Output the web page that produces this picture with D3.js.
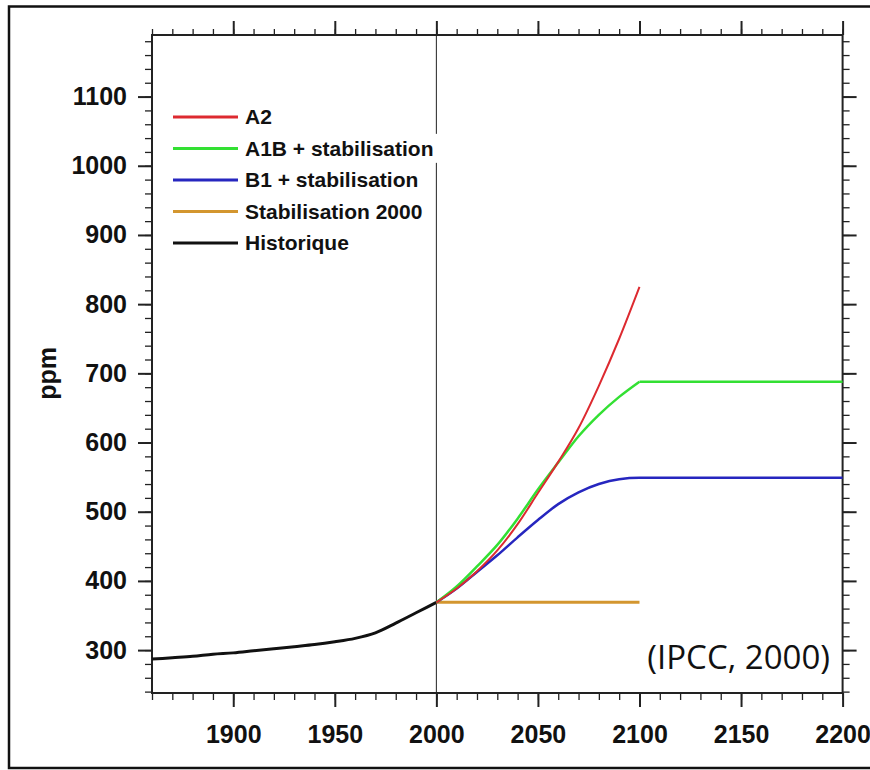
<!DOCTYPE html>
<html>
<head>
<meta charset="utf-8">
<script src="https://cdn.jsdelivr.net/npm/d3@7"></script>
<style>
  body { margin: 0; background: #fff; }
</style>
</head>
<body>
<div id="chart"></div>
<script>
// historical CO2 (ppm)
const histYears = [1860, 1870, 1880, 1890, 1900, 1910, 1920, 1930, 1940, 1950, 1960, 1970, 1980, 1990, 2000];
const histCO2 = [287, 289, 291, 294, 296, 299, 302, 305, 308, 312, 317, 325, 339, 354, 369];

// scenarios
const scenYears = [2000, 2010, 2020, 2030, 2040, 2050, 2060, 2070, 2080, 2090, 2100];
const a2 = [369, 389, 414, 444, 482, 527, 572, 621, 682, 750, 825];
const a1b = [369, 392, 421, 452, 490, 532, 571, 609, 640, 666, 688];
const b1 = [369, 389, 413, 437, 463, 488, 511, 528, 540, 547, 549];
const plateauYears = [2100, 2200];
const stabYears = [2000, 2100];
const stab2000 = [369, 369];

const xMajor = [1900, 1950, 2000, 2050, 2100, 2150, 2200];
const yMajor = [300, 400, 500, 600, 700, 800, 900, 1000, 1100];

const legendLabels = ["A2", "A1B + stabilisation", "B1 + stabilisation", "Stabilisation 2000", "Historique"];
const colors = ["#dd2a30", "#33e033", "#2626bf", "#d3962f", "#111111"];

const W = 870, H = 770;
const font = "'Liberation Sans', Arial, sans-serif";

const svg = d3.select("#chart").append("svg")
  .attr("width", W)
  .attr("height", H);

// outer frame (right edge is cut off in the original)
svg.append("rect")
  .attr("x", 9).attr("y", 6.5)
  .attr("width", 900).attr("height", 761.5)
  .attr("fill", "none").attr("stroke", "#111").attr("stroke-width", 2.5);

const x = d3.scaleLinear().domain([1860, 2200]).range([152, 842.6]);
const y = d3.scaleLinear().domain([238, 1189]).range([693, 35]);

const xMinor = d3.range(1860, 2201, 10);
const yMinor = d3.range(240, 1181, 20);

function axisGroup(axis, transform, width) {
  const g = svg.append("g").attr("transform", transform).call(axis);
  g.select(".domain").remove();
  g.selectAll("line").attr("stroke", "#222").attr("stroke-width", width);
  g.selectAll("text")
    .attr("font-family", font)
    .attr("font-size", 25)
    .attr("font-weight", "bold")
    .attr("fill", "#111");
  return g;
}

// minor ticks all round
axisGroup(d3.axisBottom(x).tickValues(xMinor).tickSize(7).tickFormat(""), `translate(0,${y.range()[0]})`, 1.3);
axisGroup(d3.axisTop(x).tickValues(xMinor).tickSize(6).tickFormat(""), `translate(0,${y.range()[1]})`, 1.3);
axisGroup(d3.axisLeft(y).tickValues(yMinor).tickSize(7).tickFormat(""), `translate(${x.range()[0]},0)`, 1.3);
axisGroup(d3.axisRight(y).tickValues(yMinor).tickSize(7).tickFormat(""), `translate(${x.range()[1]},0)`, 1.3);

// major ticks
axisGroup(d3.axisBottom(x).tickValues(xMajor).tickSize(14).tickPadding(18).tickFormat(d3.format("d")),
  `translate(0,${y.range()[0]})`, 2);
axisGroup(d3.axisTop(x).tickValues(xMajor).tickSize(14).tickFormat(""), `translate(0,${y.range()[1]})`, 2);
axisGroup(d3.axisLeft(y).tickValues(yMajor).tickSize(14).tickPadding(11).tickFormat(d3.format("d")),
  `translate(${x.range()[0]},0)`, 2);
axisGroup(d3.axisRight(y).tickValues(yMajor).tickSize(14).tickFormat(""), `translate(${x.range()[1]},0)`, 2);

// plot frame
svg.append("rect")
  .attr("x", x.range()[0]).attr("y", y.range()[1])
  .attr("width", x.range()[1] - x.range()[0])
  .attr("height", y.range()[0] - y.range()[1])
  .attr("fill", "none").attr("stroke", "#222").attr("stroke-width", 2);

// y axis title
svg.append("text")
  .attr("transform", `translate(56,${y(700)}) rotate(-90)`)
  .attr("text-anchor", "middle")
  .attr("font-family", font)
  .attr("font-size", 25)
  .attr("font-weight", "bold")
  .attr("fill", "#111")
  .text("ppm");

// 2000 marker line
svg.append("line")
  .attr("x1", x(2000)).attr("x2", x(2000))
  .attr("y1", y.range()[1]).attr("y2", y.range()[0])
  .attr("stroke", "#222").attr("stroke-width", 1);

const line = d3.line()
  .x(d => x(d[0]))
  .y(d => y(d[1]))
  .curve(d3.curveMonotoneX);

const zip = (xs, ys) => xs.map((v, i) => [v, ys[i]]);

const series = [
  { pts: zip(histYears, histCO2), c: colors[4], w: 3 },
  { pts: zip(stabYears, stab2000), c: colors[3], w: 3 },
  { pts: zip(scenYears.concat([2200]), b1.concat([b1[b1.length - 1]])), c: colors[2], w: 2.5 },
  { pts: zip(scenYears, a1b), c: colors[1], w: 2.5 },
  { pts: zip(plateauYears, [a1b[a1b.length - 1], a1b[a1b.length - 1]]), c: colors[1], w: 2.5 },
  { pts: zip(scenYears, a2), c: colors[0], w: 2 }
];

series.forEach(s => {
  svg.append("path")
    .datum(s.pts)
    .attr("d", line)
    .attr("fill", "none")
    .attr("stroke", s.c)
    .attr("stroke-width", s.w)
    .attr("stroke-linejoin", "round");
});

// legend
const lg = svg.append("g").attr("transform", "translate(173,117)");
legendLabels.forEach((lab, i) => {
  const row = lg.append("g").attr("transform", `translate(0,${i * 31.5})`);
  const bg = row.append("rect").attr("fill", "#fff");
  row.append("line")
    .attr("x1", 0).attr("x2", 65)
    .attr("stroke", colors[i]).attr("stroke-width", 3);
  const t = row.append("text")
    .attr("x", 72)
    .attr("dy", "0.35em")
    .attr("font-family", font)
    .attr("font-size", 21)
    .attr("font-weight", "bold")
    .attr("fill", "#111")
    .text(lab);
  const bb = t.node().getBBox();
  bg.attr("x", bb.x - 2).attr("y", bb.y - 3)
    .attr("width", bb.width + 6).attr("height", bb.height + 6);
});

// source note
svg.append("text")
  .attr("x", 830)
  .attr("y", 669)
  .attr("text-anchor", "end")
  .attr("font-family", "'Open Sans', sans-serif")
  .attr("font-size", 33)
  .attr("fill", "#111")
  .text("(IPCC, 2000)");
</script>
</body>
</html>
